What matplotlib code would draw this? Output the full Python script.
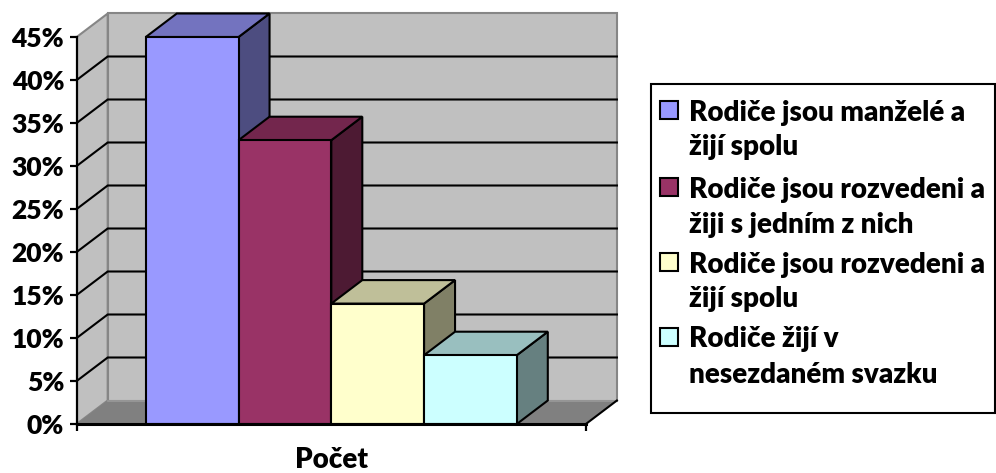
import matplotlib
matplotlib.use("Agg")
import matplotlib.pyplot as plt
from matplotlib.patches import Polygon, Rectangle
import matplotlib.colors as mcolors

# ---- data ----
categories = [
    "Rodiče jsou manželé a\nžijí spolu",
    "Rodiče jsou rozvedeni a\nžiji s jedním z nich",
    "Rodiče jsou rozvedeni a\nžijí spolu",
    "Rodiče žijí v\nnesezdaném svazku",
]
values = [45, 33, 14, 8]
bar_colors = ["#9999FF", "#993366", "#FFFFCC", "#CCFFFF"]
yticks = [0, 5, 10, 15, 20, 25, 30, 35, 40, 45]
ytick_labels = [f"{t}%" for t in yticks]
xlabel = "Počet"

FONT = ["Lato", "DejaVu Sans"]
WEIGHT = "heavy"
plt.rcParams["font.family"] = FONT

W, H = 996, 473
fig = plt.figure(figsize=(W / 100, H / 100), dpi=100)

# geometry (pixels -> data)
PX_PER_UNIT = 92.75      # horizontal px per category unit
PX_PER_PCT = 8.6         # vertical px per percent
ax_left_px, ax_bottom_px, ax_right_px, ax_top_px = 76.7, 424, 640, 5
ax = fig.add_axes([ax_left_px / W, (H - ax_bottom_px) / H,
                   (ax_right_px - ax_left_px) / W, (ax_bottom_px - ax_top_px) / H])
X0 = -0.745
X1 = len(values) + 0.745
ax.set_xlim(X0, X0 + (ax_right_px - ax_left_px) / PX_PER_UNIT)
ax.set_ylim(0, (ax_bottom_px - ax_top_px) / PX_PER_PCT)
DX = 31 / PX_PER_UNIT
DY = 23.5 / PX_PER_PCT
YMAX = yticks[-1]

wall = "#C0C0C0"
edge_gray = "#868686"
# side wall
ax.add_patch(Polygon([(X0, 0), (X0 + DX, DY), (X0 + DX, YMAX + DY), (X0, YMAX)],
                     closed=True, facecolor=wall, edgecolor=edge_gray, lw=1.5, zorder=0.5))
# back wall
ax.add_patch(Polygon([(X0 + DX, DY), (X1 + DX, DY), (X1 + DX, YMAX + DY), (X0 + DX, YMAX + DY)],
                     closed=True, facecolor=wall, edgecolor=edge_gray, lw=1.5, zorder=0.5))
# gridlines
for t in yticks[1:-1]:
    ax.plot([X0, X0 + DX, X1 + DX], [t, t + DY, t + DY], color="black", lw=1.5,
            zorder=1, solid_joinstyle="miter")
# floor
ax.add_patch(Polygon([(X0, 0), (X1, 0), (X1 + DX, DY), (X0 + DX, DY)],
                     closed=True, facecolor="#808080", edgecolor="none", zorder=1.2))
ax.plot([X0 + DX, X1 + DX], [DY, DY], color="#9a9a9a", lw=1.2, zorder=1.3)
ax.plot([X1, X1 + DX], [0, DY], color="black", lw=1.5, zorder=1.3)


def shade(c, f):
    r, g, b = mcolors.to_rgb(c)
    return (r * f, g * f, b * f)


for i, (v, c) in enumerate(zip(values, bar_colors)):
    x0, x1 = i, i + 1
    z = 3 + i
    kw = dict(closed=True, edgecolor="black", lw=1.5, joinstyle="miter", zorder=z)
    ax.add_patch(Polygon([(x1, 0), (x1 + DX, DY), (x1 + DX, v + DY), (x1, v)],
                         facecolor=shade(c, 0.5), **kw))
    ax.add_patch(Polygon([(x0, v), (x1, v), (x1 + DX, v + DY), (x0 + DX, v + DY)],
                         facecolor=shade(c, 0.75), **kw))
    ax.add_patch(Polygon([(x0, 0), (x1, 0), (x1, v), (x0, v)],
                         facecolor=c, **kw))

# axes styling
for s in ["top", "right"]:
    ax.spines[s].set_visible(False)
ax.spines["left"].set_bounds(0, YMAX)
ax.spines["left"].set_linewidth(1.6)
ax.spines["bottom"].set_bounds(X0, X1)
ax.spines["bottom"].set_linewidth(2.2)
for s in ["left", "bottom"]:
    ax.spines[s].set_zorder(20)
ax.set_yticks(yticks)
ax.set_yticklabels(ytick_labels, fontsize=19, fontweight=WEIGHT, family=FONT)
ax.set_xticks([X0, X1])
ax.set_xticklabels([])
ax.tick_params(axis="y", length=5, width=1.6, pad=4, direction="out")
ax.tick_params(axis="x", length=5, width=1.6, direction="out")
ax.patch.set_visible(False)

ax.annotate(xlabel, xy=((X0 + X1) / 2, 0), xycoords=("data", "axes fraction"),
            xytext=(0, -36), textcoords="offset pixels", ha="center", va="center",
            fontsize=20, fontweight=WEIGHT, family=FONT)

# legend (manual)
def fx(px):
    return px / W


def fy(py):
    return 1 - py / H


box_l, box_t, box_r, box_b = 651, 84, 995, 413
fig.add_artist(Rectangle((fx(box_l), fy(box_b)), fx(box_r) - fx(box_l), fy(box_t) - fy(box_b),
                         transform=fig.transFigure, fill=False, edgecolor="black", lw=1.5))
first_line_y = [110, 187, 262, 337]
line_gap = 35
for lab, c, yc in zip(categories, bar_colors, first_line_y):
    sq = 18
    fig.add_artist(Rectangle((fx(660), fy(yc + sq / 2)), sq / W, sq / H,
                             transform=fig.transFigure, facecolor=c, edgecolor="black", lw=1.5))
    for k, line in enumerate(lab.split("\n")):
        fig.text(fx(689), fy(yc + k * line_gap), line, ha="left", va="center_baseline",
                 fontsize=20, fontweight=WEIGHT, family=FONT)

fig.savefig("out.png", dpi=100)
